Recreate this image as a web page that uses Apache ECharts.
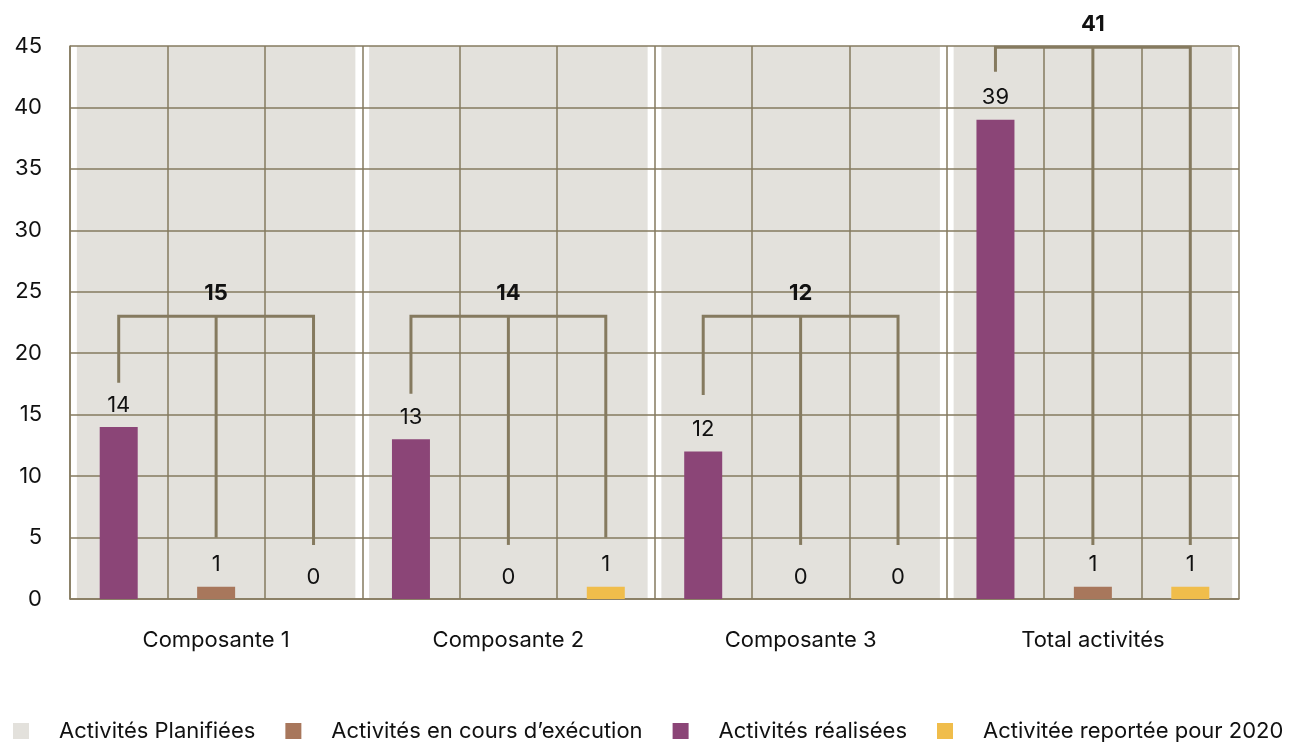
<!DOCTYPE html>
<html>
<head>
<meta charset="utf-8">
<script src="https://cdn.jsdelivr.net/npm/echarts@6/dist/echarts.min.js"></script>
<style>
  html, body { margin: 0; padding: 0; background: #ffffff; }
  #chart { width: 1291px; height: 742px; }
</style>
</head>
<body>
<div id="chart"></div>
<script>
// groupes affichés sous l'axe
var groups = ['Composante 1', 'Composante 2', 'Composante 3', 'Total activités'];
// sous-colonnes : réalisées / en cours / reportée, pour chaque groupe
var subCats = [
  'C1 réalisées', 'C1 en cours', 'C1 reportée',
  'C2 réalisées', 'C2 en cours', 'C2 reportée',
  'C3 réalisées', 'C3 en cours', 'C3 reportée',
  'Total réalisées', 'Total en cours', 'Total reportée'
];
var planned = [15, 14, 12, 41];
var realized = [14, 13, 12, 39];
var inProgress = [1, 0, 0, 1];
var postponed = [0, 1, 0, 1];
// fond gris (hauteur pleine de l'axe)
var plannedBackground = [45, 45, 45, 45];
// accolades : hauteur du trait horizontal et bas des trois branches
var bracketTop = [23, 23, 23, 44.9];
var bracketEnds = [[17.6, 5.0, 4.4], [16.7, 4.4, 5.0], [16.6, 4.4, 4.4], [42.9, 4.4, 4.4]];
var yTicks = [0, 45, 5]; // min, max, interval

var lineColor = '#857a5f';
var font = 'Inter, "Noto Sans", sans-serif';

// place une valeur de groupe dans la bonne sous-colonne
function spread(values, offset) {
  var out = [];
  for (var i = 0; i < subCats.length; i++) out.push('-');
  values.forEach(function (v, g) { out[g * 3 + offset] = v; });
  return out;
}

var bracketData = groups.map(function (name, g) {
  return [g * 3 + 1, bracketTop[g], bracketEnds[g][0], bracketEnds[g][1], bracketEnds[g][2], planned[g]];
});

var barLabel = {
  show: true,
  position: 'top',
  distance: 11,
  color: '#111',
  fontFamily: font,
  fontSize: 22
};

var myChart = echarts.init(document.getElementById('chart'));
var option = {
  backgroundColor: '#ffffff',
  animation: false,
  grid: { left: 70, right: 52, top: 46, bottom: 143 },
  legend: {
    left: 8,
    top: 715,
    itemWidth: 16,
    itemHeight: 16,
    itemGap: 30,
    icon: 'rect',
    data: ['Activités Planifiées', 'Activités en cours d’exécution', 'Activités réalisées', 'Activitée reportée pour 2020'],
    textStyle: { color: '#111', fontFamily: font, fontSize: 22, padding: [0, 0, 0, 25] }
  },
  xAxis: [{
    type: 'category',
    data: subCats,
    position: 'bottom',
    z: 3,
    axisLine: { show: true, lineStyle: { color: lineColor, width: 1.5 } },
    axisTick: { show: false },
    axisLabel: { show: false },
    splitLine: { show: true, interval: 0, lineStyle: { color: lineColor, width: 1.5 } }
  }, {
    type: 'category',
    data: groups,
    position: 'bottom',
    axisLine: { show: false },
    axisTick: { show: false },
    splitLine: { show: false },
    axisLabel: { margin: 30, color: '#111', fontFamily: font, fontSize: 22 }
  }],
  yAxis: {
    type: 'value',
    min: yTicks[0],
    max: yTicks[1],
    interval: yTicks[2],
    z: 3,
    axisLine: { show: true, lineStyle: { color: lineColor, width: 1.5 } },
    axisTick: { show: false },
    axisLabel: { margin: 28, color: '#111', fontFamily: font, fontSize: 22 },
    splitLine: { show: true, lineStyle: { color: lineColor, width: 1.5 } }
  },
  series: [{
    name: 'Activités Planifiées',
    type: 'bar',
    xAxisIndex: 1,
    z: 1,
    barWidth: '95.3%',
    itemStyle: { color: '#e3e1dc' },
    data: plannedBackground
  }, {
    name: 'Activités réalisées',
    type: 'bar',
    xAxisIndex: 0,
    z: 4,
    barWidth: 38,
    barGap: '-100%',
    itemStyle: { color: '#8b4577' },
    label: barLabel,
    data: spread(realized, 0)
  }, {
    name: 'Activités en cours d’exécution',
    type: 'bar',
    xAxisIndex: 0,
    z: 4,
    barWidth: 38,
    barGap: '-100%',
    itemStyle: { color: '#a8775c' },
    label: barLabel,
    data: spread(inProgress, 1)
  }, {
    name: 'Activitée reportée pour 2020',
    type: 'bar',
    xAxisIndex: 0,
    z: 4,
    barWidth: 38,
    barGap: '-100%',
    itemStyle: { color: '#f0bd4b' },
    label: barLabel,
    data: spread(postponed, 2)
  }, {
    // accolades regroupant les trois sous-colonnes
    type: 'custom',
    xAxisIndex: 0,
    z: 5,
    clip: false,
    silent: true,
    data: bracketData,
    renderItem: function (params, api) {
      var mid = api.value(0);
      var top = api.value(1);
      var l0 = api.coord([mid - 1, top]);
      var l1 = api.coord([mid - 1, api.value(2)]);
      var m0 = api.coord([mid, top]);
      var m1 = api.coord([mid, api.value(3)]);
      var r0 = api.coord([mid + 1, top]);
      var r1 = api.coord([mid + 1, api.value(4)]);
      var stroke = { stroke: lineColor, lineWidth: 3, fill: null };
      return {
        type: 'group',
        children: [{
          type: 'polyline',
          shape: { points: [l1, l0, r0, r1] },
          style: stroke
        }, {
          type: 'line',
          shape: { x1: m0[0], y1: m0[1], x2: m1[0], y2: m1[1] },
          style: stroke
        }, {
          type: 'text',
          x: m0[0],
          y: m0[1] - 23,
          style: {
            text: String(api.value(5)),
            fill: '#111',
            font: 'bold 22px ' + font,
            align: 'center',
            verticalAlign: 'middle'
          }
        }]
      };
    }
  }]
};
myChart.setOption(option);
</script>
</body>
</html>
